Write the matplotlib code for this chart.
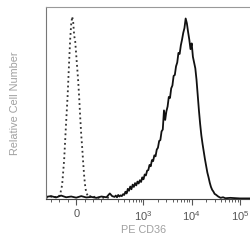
import matplotlib
matplotlib.use('Agg')
import matplotlib.pyplot as plt

plt.rcParams['font.family'] = ['Liberation Sans', 'DejaVu Sans']
plt.rcParams['mathtext.fontset'] = 'custom'
plt.rcParams['mathtext.rm'] = 'Liberation Sans'

# Isotype control (dotted), PE channel values and relative counts
iso_x = [-180, -165, -150, -138, -126, -108, -96, -84, -72, -60, -51, -42, -36, -30,
         -24, -18, -12, -6, 0, 6, 12, 18, 24, 30, 36, 42, 48, 54, 60, 72, 84,
         96, 110, 125, 145, 170, 200]
iso_y = [0.6, 0.2, 1.0, 0.3, 0.8, 0.5, 2, 7, 20, 40, 54, 72, 83, 91,
         95, 92, 85, 82, 75, 68, 61, 52, 42, 33, 26, 18, 11, 6, 3, 0.8, 1.2,
         0.3, 0.9, 0.2, 0.6, 0.3, 0.5]

# CD36 stained cells (solid)
cd36_x = [-180, -150, -120, -90, -60, -30, 0, 30, 60, 90, 120, 150, 180, 200,
          224, 251, 266, 282, 299, 316, 335, 355, 376, 398, 422, 447, 473,
          501, 531, 562, 596, 631, 668, 708, 750, 794, 841, 891, 944,
          1000, 1059, 1122, 1189, 1259, 1334, 1413, 1496, 1585, 1679, 1778, 1884,
          1995, 2113, 2239, 2371, 2512, 2661, 2818, 2985, 3162, 3350, 3548, 3758,
          3981, 4217, 4467, 4732, 5012, 5309, 5623, 5957, 6310, 6683, 7079, 7499,
          7943, 8414, 8913, 9441, 10000, 10593, 11220, 11885, 12589, 13335, 14125,
          14962, 15849, 16788, 17783, 18836, 19953, 21135, 22387, 23714, 25119,
          26607, 28184, 29854, 31623, 35481, 39811, 44668, 50119, 63096, 100000,
          158489]
cd36_y = [0.8, 1.2, 0.5, 1.5, 0.6, 1.0, 0.4, 1.2, 0.5, 0.8, 0.3, 1.0, 0.6, 2.6,
          1.2, 0.8, 1.5, 0.6, 1.8, 1.0, 1.6, 1.2, 2.2, 1.8, 3.5, 2.6, 5.0,
          4.0, 6.2, 4.8, 7.2, 6.0, 8.0, 6.8, 8.8, 7.8, 9.5, 8.6, 11.0,
          10.0, 12.5, 12.0, 14.5, 14.8, 17.5, 16.8, 20.0, 19.5, 22.5, 22.0, 25.5,
          26.5, 30.0, 30.5, 35.0, 36.0, 46.0, 41.0, 45.5, 48.0, 53.0, 52.5, 57.5,
          59.0, 64.0, 64.5, 69.0, 71.0, 76.0, 75.5, 80.0, 83.0, 86.5, 89.0, 94.0,
          91.5, 87.0, 83.0, 78.0, 81.0, 74.0, 71.0, 68.0, 62.0, 54.0, 46.0,
          39.0, 33.0, 28.5, 24.5, 20.5, 17.0, 13.5, 11.0, 8.2, 6.0,
          4.5, 3.6, 2.4, 2.0, 1.0, 0.3, 0.6, 0.1, 0.3, 0.0,
          0.0]

major_ticks = [0, 1000, 10000, 100000]
major_labels = ['0', r'$\mathregular{10^3}$', r'$\mathregular{10^4}$', r'$\mathregular{10^5}$']
minor_ticks = [-150, -100, -50, 50, 100, 150, 300, 400, 500, 600, 700, 800, 900,
               2000, 3000, 4000, 5000, 6000, 7000, 8000, 9000,
               20000, 30000, 40000, 50000, 60000, 70000, 80000, 90000]

fig = plt.figure(figsize=(2.5, 2.5), dpi=100)
ax = fig.add_axes([0.184, 0.204, 0.82, 0.768])

ax.plot(iso_x, iso_y, linestyle=':', color='#333333', linewidth=1.3)
ax.plot(cd36_x, cd36_y, color='#111111', linewidth=1.3)

ax.set_xscale('symlog', base=10, linthresh=200, linscale=0.627)
ax.set_xlim(-180, 170000)
ax.set_ylim(-0.3, 100)

ax.set_xticks(major_ticks)
ax.set_xticklabels(major_labels)
ax.set_xticks(minor_ticks, minor=True)
ax.tick_params(axis='x', which='major', length=4, width=0.8, colors='#555555',
               labelsize=8, pad=3)
ax.tick_params(axis='x', which='minor', length=2, width=0.6, color='#444444')
ax.set_yticks([])

for side in ['left', 'top', 'bottom']:
    ax.spines[side].set_linewidth(0.8)
ax.spines['left'].set_color('#777777')
ax.spines['top'].set_color('#999999')
ax.spines['bottom'].set_color('#444444')
ax.spines['right'].set_visible(False)

ax.set_xlabel('PE CD36', color='#a0a0a0', fontsize=7.8)
ax.xaxis.set_label_coords(0.475, -0.135)
ax.set_ylabel('Relative Cell Number', color='#a0a0a0', fontsize=7.8)
ax.yaxis.set_label_coords(-0.125, 0.5)

fig.savefig('out.png', dpi=100)
